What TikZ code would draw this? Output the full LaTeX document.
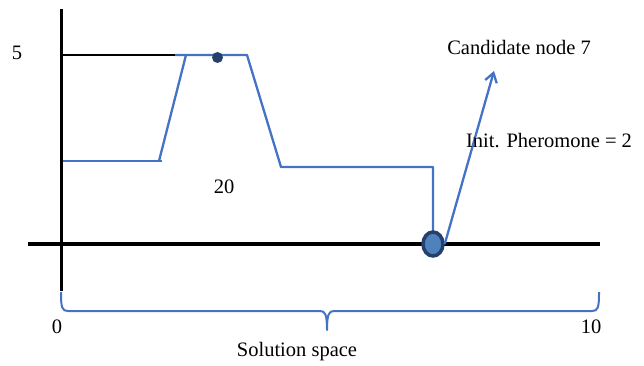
\documentclass[tikz,border=0pt]{standalone}
\usepackage{fontspec}
\setmainfont{Liberation Serif}
\usetikzlibrary{arrows.meta,shapes.geometric}
\definecolor{lineblue}{RGB}{68,114,196}
\definecolor{dotnavy}{RGB}{38,64,110}
\definecolor{dotfill}{RGB}{79,129,189}
\tikzset{
  lbl/.style={font=\fontsize{20.5}{24}\selectfont,inner sep=0pt},
  curve/.style={lineblue,line width=2.3pt,line join=round}
}
\begin{document}
\begin{tikzpicture}[x=1pt,y=-1pt,>={Straight Barb[length=9pt,width=12pt]}]
  \useasboundingbox (0,0) rectangle (644,366);
  % axes
  \draw[line width=3pt] (61,9) -- (61,291);
  \draw[line width=4pt] (28,244) -- (600,244);
  \node[lbl] (five) at (17,53) {5};
  \draw[line width=2pt] (61,55) -- (175,55);
  % pheromone curve
  \draw[curve] (63,161) -- (162,161);
  \draw[curve] (159,161) -- (186,55);
  \draw[curve] (175,55) -- (247,55) -- (281,167) -- (433,167) -- (433,234);
  \fill[dotnavy] (217.5,57.5) circle (5.5);
  \node[lbl] (val) at (224,187) {20};
  % candidate
  \node[ellipse,draw=dotnavy,fill=dotfill,line width=3.5pt,minimum width=20pt,
        minimum height=24pt,inner sep=0pt] (cand) at (433,244) {};
  \coordinate (tip) at (494,71);
  \draw[->,lineblue,line width=2.3pt] (cand.east) -- (tip);
  \node[lbl] (name) at (519,47) {Candidate node 7};
  \node[lbl] (pher) at (549,141) {Init. Pheromone = 2};
  % solution space brace
  \draw[lineblue,line width=2pt,line join=round]
        (61,292) .. controls (61,308) and (62,311) .. (68,311) -- (320,311)
        .. controls (325,311) and (327,314) .. (327,330)
        .. controls (327,314) and (329,311) .. (334,311) -- (592,311)
        .. controls (598,311) and (599,308) .. (599,292);
  \node[lbl] (lo) at (57,327) {0};
  \node[lbl] (hi) at (591,327) {10};
  \node[lbl] (sol) at (297,352) {Solution space};
\end{tikzpicture}
\end{document}
